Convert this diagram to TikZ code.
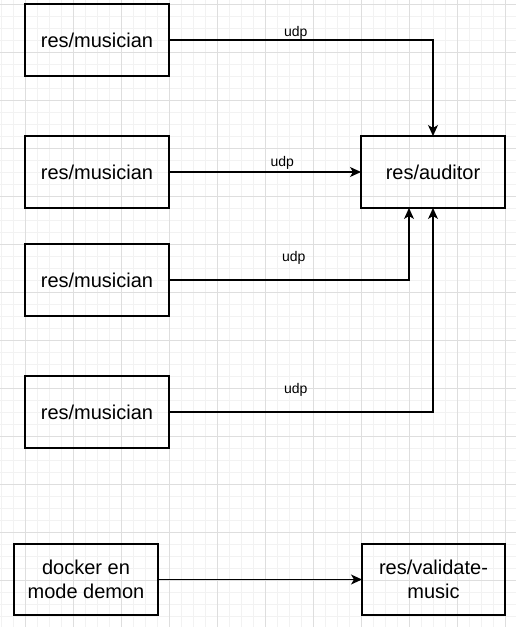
\documentclass[tikz,border=0pt]{standalone}
\usepackage{fontspec}
\setmainfont{Liberation Sans}
\usetikzlibrary{arrows.meta}
\definecolor{gridminor}{HTML}{F2F2F2}
\definecolor{gridmajor}{HTML}{DEDEDE}
\tikzset{
	service/.style={draw, line width=1.3pt, minimum width=144pt, minimum height=72pt, inner sep=0pt, outer sep=0pt, align=center, font=\fontsize{20}{23.5}\selectfont},
	flow/.style={line width=1.2pt, -{Stealth[length=11pt, width=10pt, inset=3pt]}},
	udplabel/.style={anchor=base, inner sep=0pt, font=\fontsize{14}{16}\selectfont}
}
\begin{document}
\begin{tikzpicture}[x=1pt, y=-1pt]
	\useasboundingbox (0, 0) rectangle (516, 627);
	% background grid
	\foreach \x in {1, 13, ..., 516} \draw[gridminor, line width=1pt] (\x, 0) -- (\x, 627);
	\foreach \y in {4, 16, ..., 627} \draw[gridminor, line width=1pt] (0, \y) -- (516, \y);
	\foreach \x in {25, 73, ..., 516} \draw[gridmajor, line width=1pt] (\x, 0) -- (\x, 627);
	\foreach \y in {4, 52, ..., 627} \draw[gridmajor, line width=1pt] (0, \y) -- (516, \y);
	% services
	\node[service] (mus1) at (97, 40) {res/musician};
	\node[service] (mus2) at (97, 172) {res/musician};
	\node[service] (mus3) at (97, 280) {res/musician};
	\node[service] (mus4) at (97, 412) {res/musician};
	\node[service] (auditor) at (433, 172) {res/auditor};
	\node[service, minimum height=71pt] (docker) at (86, 579.5) {docker en\\mode demon};
	\node[service, minimum width=143pt, minimum height=71pt] (validate) at (433.5, 579.5) {res/validate-\\music};
	% udp flows
	\draw[flow] (mus1) -| node[udplabel, pos=0.24, yshift=4pt] {udp} (auditor);
	\draw[flow] (mus2) -- node[udplabel, pos=0.59, yshift=6pt] {udp} (auditor);
	\draw[flow] (mus3) -| node[udplabel, pos=0.26, yshift=19pt] {udp} ([xshift=-24pt]auditor.south);
	\draw[flow] (mus4) -| node[udplabel, pos=0.24, yshift=19pt] {udp} (auditor);
	\draw[flow] (docker) -- (validate);
\end{tikzpicture}
\end{document}
